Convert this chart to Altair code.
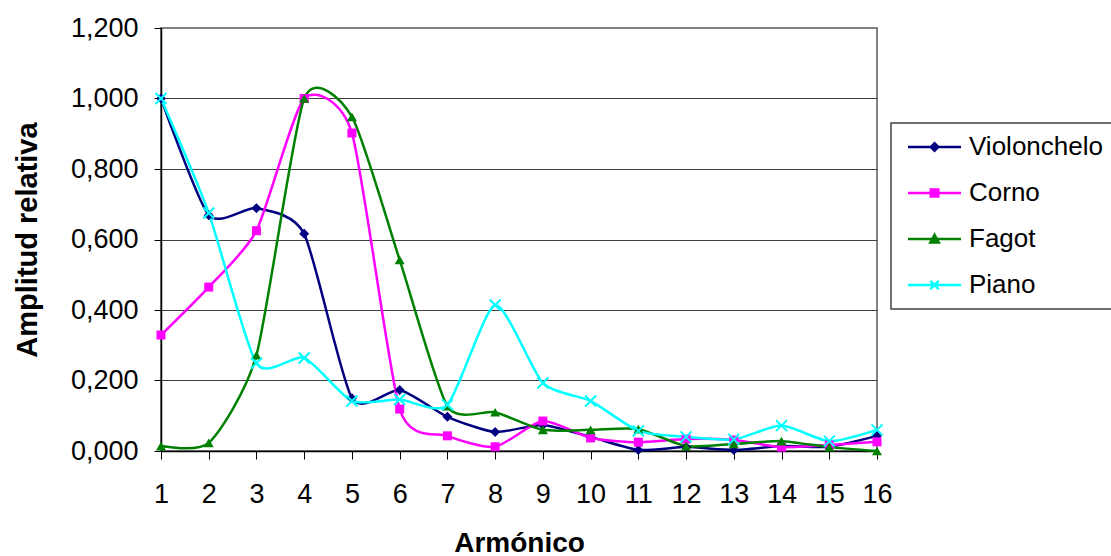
import altair as alt
import pandas as pd

# ---- data ----
harmonics = list(range(1, 17))
series_names = ["Violonchelo", "Corno", "Fagot", "Piano"]
series_colors = ["#000080", "#FF00FF", "#008000", "#00FFFF"]

violonchelo = [1.000, 0.669, 0.689, 0.616, 0.150, 0.173, 0.097, 0.054,
               0.074, 0.040, 0.003, 0.011, 0.003, 0.014, 0.012, 0.043]
corno = [0.329, 0.465, 0.625, 1.000, 0.902, 0.119, 0.043, 0.012,
         0.085, 0.037, 0.025, 0.034, 0.031, 0.011, 0.017, 0.026]
fagot = [0.014, 0.023, 0.272, 1.000, 0.948, 0.542, 0.127, 0.110,
         0.060, 0.060, 0.062, 0.014, 0.020, 0.028, 0.011, 0.000]
piano = [1.000, 0.675, 0.249, 0.264, 0.142, 0.146, 0.131, 0.414,
         0.193, 0.142, 0.057, 0.040, 0.033, 0.072, 0.028, 0.060]

y_ticks = [0.0, 0.2, 0.4, 0.6, 0.8, 1.0, 1.2]

values = {"Violonchelo": violonchelo, "Corno": corno, "Fagot": fagot, "Piano": piano}
rows = []
for name in series_names:
    for h, v in zip(harmonics, values[name]):
        rows.append({"serie": name, "armonico": h, "amplitud": v})
df = pd.DataFrame(rows)

FONT = "Liberation Sans"

# marker styles in the plot
X_PATH = "M-1,-1L1,1M-1,1L1,-1"
marker_styles = {
    "Violonchelo": dict(shape="diamond", filled=True, size=100),
    "Corno": dict(shape="square", filled=True, size=81),
    "Fagot": dict(shape="triangle-up", filled=True, size=100),
    "Piano": dict(shape=X_PATH, filled=False, size=121, strokeWidth=2),
}

# legend symbols: line segment + marker (unit = 7 px)
legend_paths = [
    "M-1,0H6.57M2.79,-0.54L3.33,0L2.79,0.54L2.25,0Z",
    "M-1,0H6.57M2.25,-0.5H3.33V0.5H2.25Z",
    "M-1,0H6.57M2.79,-0.6L3.39,0.5H2.19Z",
    "M-1,0H6.57M2.19,-0.6L3.39,0.6M2.19,0.6L3.39,-0.6",
]

color_scale = alt.Scale(domain=series_names, range=series_colors)
shape_scale = alt.Scale(domain=series_names, range=legend_paths)

x_enc = alt.X(
    "armonico:Q",
    scale=alt.Scale(domain=[1, 16], nice=False, zero=False),
    axis=alt.Axis(
        values=harmonics, format="d", title="Armónico", grid=False,
        tickSize=8, tickColor="black", domainColor="black", domainWidth=1.5,
        labelFontSize=27, labelColor="black", labelPadding=22, labelFlush=False,
        titleFontSize=28, titleFontWeight="bold", titleColor="black", titlePadding=22,
    ),
)
y_enc = alt.Y(
    "amplitud:Q",
    scale=alt.Scale(domain=[0, 1.2], nice=False),
    axis=alt.Axis(
        values=y_ticks,
        labelExpr="replace(format(datum.value, '.3f'), '.', ',')",
        title="Amplitud relativa", grid=True,
        gridColor={"condition": {"test": "datum.value >= 1.19", "value": "#808080"}, "value": "#404040"},
        gridWidth=1,
        tickSize=7, tickColor="black", domainColor="black", domainWidth=1.5,
        labelFontSize=27, labelColor="black", labelPadding=16,
        titleFontSize=29, titleFontWeight="bold", titleColor="black", titlePadding=28,
    ),
)

legend_layer = alt.Chart(df).transform_filter("false").mark_point(
    filled=True, opacity=1, size=196, strokeWidth=2.5
).encode(
    x=x_enc, y=y_enc,
    fill=alt.Fill("serie:N", scale=color_scale, title=None),
    stroke=alt.Stroke("serie:N", scale=color_scale, title=None),
    shape=alt.Shape("serie:N", scale=shape_scale, title=None),
)

lines = alt.Chart(df).mark_line(
    interpolate="cardinal", tension=0.35, strokeWidth=2.5
).encode(
    x=x_enc, y=y_enc,
    stroke=alt.Stroke("serie:N", scale=color_scale, title=None),
)

point_layers = []
for name, col in zip(series_names, series_colors):
    st = dict(marker_styles[name])
    if st["filled"]:
        st["fill"] = col
        st.setdefault("strokeWidth", 0)
    else:
        st["stroke"] = col
        st["fill"] = "transparent"
    point_layers.append(
        alt.Chart(df).transform_filter(alt.datum.serie == name)
        .mark_point(opacity=1, **st)
        .encode(x=x_enc, y=y_enc)
    )

chart = alt.layer(legend_layer, lines, *point_layers).properties(
    width=716, height=423,
    autosize=alt.AutoSizeParams(type="none"),
    padding={"left": 161, "top": 28, "right": 234, "bottom": 105},
    background="white",
).configure_view(
    stroke="#808080", strokeWidth=2
).configure_axis(
    labelFont=FONT, titleFont=FONT
).configure_legend(
    orient="none", legendX=730, legendY=95,
    labelFont=FONT, labelFontSize=26, labelColor="black", labelLimit=400,
    labelOffset=41, padding=11, rowPadding=20,
    strokeColor="#404040", strokeWidth=1.5, fillColor="white",
    symbolSize=196, symbolStrokeWidth=2.5, symbolOpacity=1,
)

chart.save("out.html", embed_options={"renderer": "svg", "actions": False})
